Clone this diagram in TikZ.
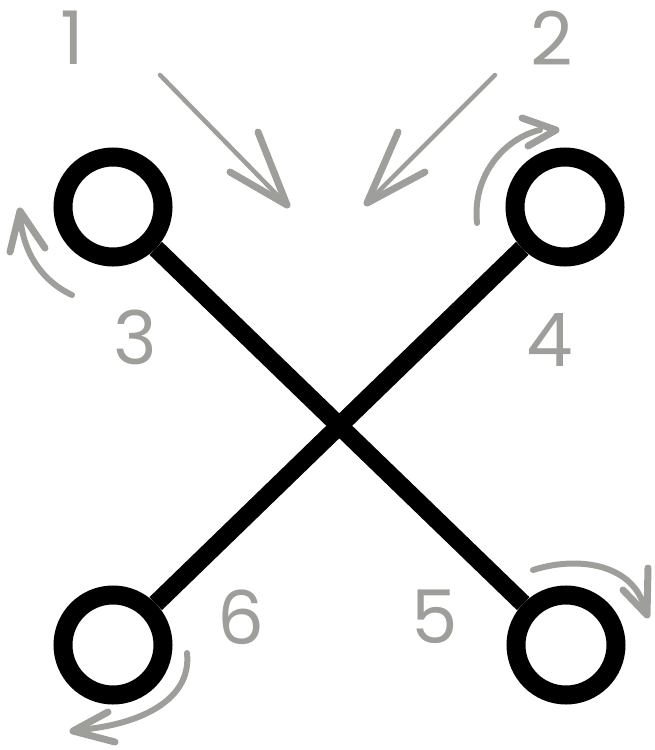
\documentclass[tikz,border=0pt]{standalone}
\usepackage{fontspec}
\setmainfont{Poppins}
\definecolor{ann}{RGB}{158,158,154}
\begin{document}
\begin{tikzpicture}[x=1pt,y=-1pt,
  ring/.style={circle,draw=black,line width=19pt,minimum size=100pt,inner sep=0pt},
  bar/.style={line width=18pt,black},
  num/.style={text=ann,font=\fontsize{74}{74}\selectfont,inner sep=0pt},
  arr/.style={draw=ann,line width=6pt,line cap=round,line join=round},
  head/.style={draw=ann,line width=7pt,line cap=round,line join=round}]
\useasboundingbox (0,0) rectangle (654,750);
\node[ring] (c1) at (113,207) {};
\node[ring] (c2) at (565,207) {};
\node[ring] (c3) at (113,645) {};
\node[ring] (c4) at (566,645) {};
\draw[bar] (c1) -- (c4);
\draw[bar] (c2) -- (c3);
\node[num] (n1) at (72,38) {1};
\node[num] (n2) at (552,38) {2};
\node[num] (n3) at (135,337) {3};
\node[num] (n4) at (550,340) {4};
\node[num] (n5) at (435,617) {5};
\node[num] (n6) at (241,617) {6};
% straight arrows
\draw[arr,line width=4.5pt] (160,75) -- (284,202);
\draw[head] (258,132) -- (287,205) -- (230,172);
\draw[arr,line width=4.5pt] (495,75) -- (370,200);
\draw[head] (398,132) -- (367,203) -- (425,172);
% curved arrows
\draw[arr] (477,223) .. controls (472,175) and (505,138) .. (540,130);
\draw[head] (522,118) -- (556,130) -- (528,146);
\draw[arr] (72,295) .. controls (40,280) and (22,250) .. (20,214);
\draw[head] (10,252) -- (20,211) -- (45,248);
\draw[arr] (187,653) .. controls (192,700) and (140,725) .. (78,730);
\draw[head] (108,712) -- (73,731) -- (115,742);
\draw[arr] (533,570) .. controls (580,555) and (635,565) .. (645,610);
\draw[head] (648,568) -- (647,615) -- (623,590);
\end{tikzpicture}
\end{document}
